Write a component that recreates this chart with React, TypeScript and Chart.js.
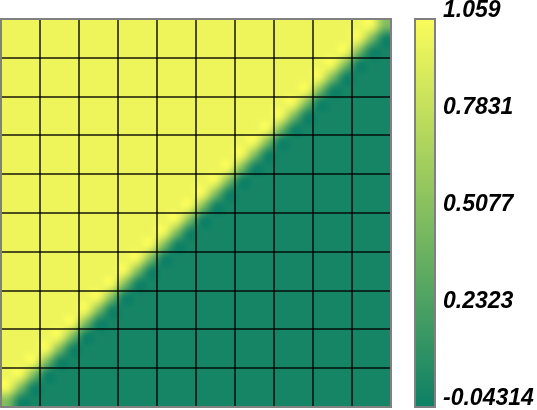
import React, { useEffect, useRef } from "react";
import { Chart, registerables } from "chart.js";

Chart.register(...registerables);

// Grid lines (axis ticks, labels hidden)
const gridTicks = [0, 1, 2, 3, 4, 5, 6, 7, 8, 9, 10];

// Underlying matrix (30 x 30), run-length encoded per row (top row first):
// number of leading "high" cells, then one "edge" cell, then "low" cells.
const matrixSize = 30;
const yellowRun = [
  29, 28, 27, 26, 25, 24, 23, 22, 21, 20,
  19, 18, 17, 16, 15, 14, 13, 12, 11, 10,
  9, 8, 7, 6, 5, 4, 3, 2, 1, 0,
];
const highValue = 1;
const edgeValue = 0.5;
const lowValue = 0;

// Colour bar
const colorbarTicks = [-0.04314, 0.2323, 0.5077, 0.7831, 1.059];
const colorbarLabels = ["-0.04314", "0.2323", "0.5077", "0.7831", "1.059"];
const colorLow = [13, 128, 101];
const colorHigh = [250, 252, 90];

function buildMatrix(): number[][] {
  return yellowRun.map((run) => {
    const row: number[] = [];
    for (let c = 0; c < matrixSize; c++) {
      row.push(c < run ? highValue : c === run ? edgeValue : lowValue);
    }
    return row;
  });
}

function cubic(p0: number, p1: number, p2: number, p3: number, t: number) {
  return (
    p1 +
    0.5 * t * (p2 - p0 + t * (2 * p0 - 5 * p1 + 4 * p2 - p3 + t * (3 * (p1 - p2) + p3 - p0)))
  );
}

function sampleBicubic(m: number[][], u: number, v: number) {
  const n = m.length;
  const w = m[0].length;
  const i = Math.floor(u);
  const j = Math.floor(v);
  const fu = u - i;
  const fv = v - j;
  const cl = (a: number, max: number) => (a < 0 ? 0 : a > max - 1 ? max - 1 : a);
  const rows: number[] = [];
  for (let k = -1; k <= 2; k++) {
    const r = m[cl(j + k, n)];
    rows.push(cubic(r[cl(i - 1, w)], r[cl(i, w)], r[cl(i + 1, w)], r[cl(i + 2, w)], fu));
  }
  return cubic(rows[0], rows[1], rows[2], rows[3], fv);
}

function colorFor(value: number, zmin: number, zmax: number) {
  let t = (value - zmin) / (zmax - zmin);
  t = Math.max(0, Math.min(1, t));
  return [
    Math.round(colorLow[0] + (colorHigh[0] - colorLow[0]) * t),
    Math.round(colorLow[1] + (colorHigh[1] - colorLow[1]) * t),
    Math.round(colorLow[2] + (colorHigh[2] - colorLow[2]) * t),
  ];
}

export default function App() {
  const ref = useRef<HTMLCanvasElement | null>(null);

  useEffect(() => {
    document.body.style.margin = "0";
    const canvas = ref.current;
    if (!canvas) return;
    const matrix = buildMatrix();
    const zmin = colorbarTicks[0];
    const zmax = colorbarTicks[colorbarTicks.length - 1];

    const heatmapPlugin = {
      id: "heatmap",
      beforeDraw(chart: any) {
        const { ctx, chartArea } = chart;
        const xs = chart.scales.x;
        const ys = chart.scales.y;
        const left = Math.round(chartArea.left);
        const top = Math.round(chartArea.top);
        const w = Math.round(chartArea.right) - left;
        const h = Math.round(chartArea.bottom) - top;
        const off = document.createElement("canvas");
        off.width = w;
        off.height = h;
        const octx = off.getContext("2d")!;
        const img = octx.createImageData(w, h);
        const n = matrix.length;
        const xr = xs.max - xs.min;
        const yr = ys.max - ys.min;
        for (let py = 0; py < h; py++) {
          const dy = ys.getValueForPixel(top + py + 0.5);
          const v = ((ys.max - dy) / yr) * n - 0.5;
          for (let px = 0; px < w; px++) {
            const dx = xs.getValueForPixel(left + px + 0.5);
            const u = ((dx - xs.min) / xr) * matrixSize - 0.5;
            const val = sampleBicubic(matrix, u, v);
            const c = colorFor(val, zmin, zmax);
            const idx = (py * w + px) * 4;
            img.data[idx] = c[0];
            img.data[idx + 1] = c[1];
            img.data[idx + 2] = c[2];
            img.data[idx + 3] = 255;
          }
        }
        octx.putImageData(img, 0, 0);
        ctx.save();
        ctx.drawImage(off, left, top);
        ctx.restore();
      },
      afterDraw(chart: any) {
        const { ctx, chartArea } = chart;
        const cb = chart.scales.cb;
        ctx.save();
        // plot frame
        ctx.strokeStyle = "#808080";
        ctx.lineWidth = 2;
        ctx.strokeRect(
          chartArea.left,
          chartArea.top,
          chartArea.right - chartArea.left,
          chartArea.bottom - chartArea.top
        );
        // colour bar
        const x0 = chartArea.right + 24;
        const bw = 20;
        const t = Math.round(cb.top);
        const b = Math.round(cb.bottom);
        for (let y = t; y < b; y++) {
          const val = cb.getValueForPixel(y + 0.5);
          const c = colorFor(val, zmin, zmax);
          ctx.fillStyle = `rgb(${c[0]},${c[1]},${c[2]})`;
          ctx.fillRect(x0, y, bw, 1);
        }
        ctx.strokeStyle = "#808080";
        ctx.lineWidth = 2;
        ctx.strokeRect(x0, t, bw, b - t);
        // labels
        ctx.fillStyle = "#000";
        ctx.font = "italic bold 23px 'Liberation Sans', Arial, sans-serif";
        ctx.textAlign = "left";
        ctx.textBaseline = "alphabetic";
        colorbarTicks.forEach((tv, i) => {
          const y = cb.getPixelForValue(tv) - 2;
          ctx.fillText(colorbarLabels[i], x0 + 28, y);
        });
        ctx.restore();
      },
    };

    const axisOpts = {
      type: "linear" as const,
      min: gridTicks[0],
      max: gridTicks[gridTicks.length - 1],
      afterBuildTicks: (s: any) => {
        s.ticks = gridTicks.map((v) => ({ value: v }));
      },
      ticks: { display: false },
      grid: { color: "rgba(0,0,0,0.68)", lineWidth: 2, drawTicks: false },
      border: { display: false },
    };

    const chart = new Chart(canvas, {
      type: "scatter",
      data: { datasets: [{ label: "z", data: [] }] },
      options: {
        animation: false,
        responsive: false,
        layout: { padding: { left: 1, top: 19, right: 146, bottom: 3 } },
        plugins: { legend: { display: false }, tooltip: { enabled: false } },
        scales: {
          x: { ...axisOpts, position: "bottom" },
          y: { ...axisOpts, position: "left" },
          cb: {
            type: "linear",
            position: "right",
            min: colorbarTicks[0],
            max: colorbarTicks[colorbarTicks.length - 1],
            display: false,
          },
        },
      },
      plugins: [heatmapPlugin],
    } as any);

    return () => chart.destroy();
  }, []);

  return (
    <div style={{ width: 537, height: 410 }}>
      <canvas ref={ref} width={537} height={410} style={{ display: "block" }} />
    </div>
  );
}
